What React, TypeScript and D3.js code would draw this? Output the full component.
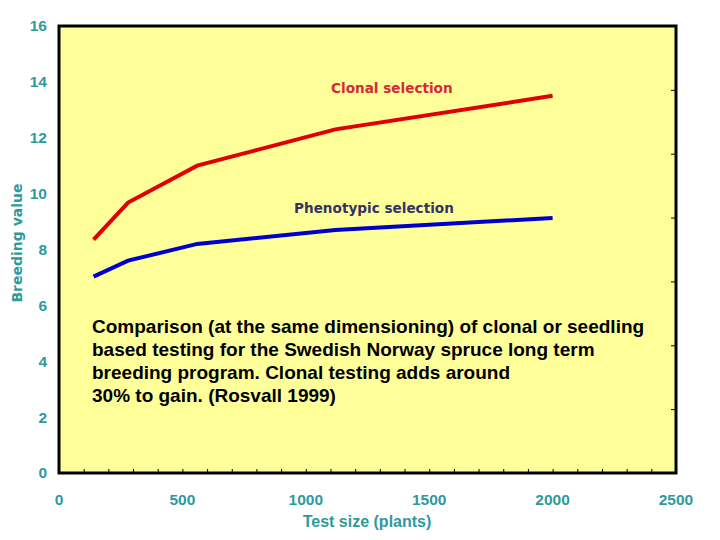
import React, { useEffect, useRef } from 'react';
import * as d3 from 'd3';

// test size (plants) and breeding value
const testSizes = [140, 280, 560, 1120, 2000];
const clonalValues = [8.35, 9.68, 11.0, 12.3, 13.5];
const phenotypicValues = [7.03, 7.6, 8.2, 8.7, 9.13];

const yTicks = [0, 2, 4, 6, 8, 10, 12, 14, 16];
const xTicks = [0, 500, 1000, 1500, 2000, 2500];

const noteLines = [
    'Comparison (at the same dimensioning) of clonal or seedling',
    'based testing for the Swedish Norway spruce long term',
    'breeding program. Clonal testing adds around',
    '30% to gain. (Rosvall 1999)',
];

const width = 720;
const height = 540;

const App: React.FC = () => {
    const svgRef = useRef<SVGSVGElement | null>(null);

    useEffect(() => {
        const margin = { top: 26, right: 44, bottom: 67, left: 59 };
        const teal = '#2E9A9A';
        const labelFont = '"Liberation Sans", Arial, sans-serif';
        const wideFont = '"DejaVu Sans", Verdana, sans-serif';

        const svg = d3.select(svgRef.current)
            .attr('width', width)
            .attr('height', height);
        svg.selectAll('*').remove();

        const x = d3.scaleLinear()
            .domain([0, 2500])
            .range([margin.left, width - margin.right]);
        const y = d3.scaleLinear()
            .domain([0, 16])
            .range([height - margin.bottom, margin.top]);
        // unlabelled secondary axis on the right, 7 intervals
        const y2 = d3.scaleLinear()
            .domain([0, 7])
            .range([height - margin.bottom, margin.top]);

        // plot background
        svg.append('rect')
            .attr('x', x(0))
            .attr('y', y(16))
            .attr('width', x(2500) - x(0))
            .attr('height', y(0) - y(16))
            .attr('fill', '#FFFF99');

        // minor ticks on the bottom, pointing inward
        svg.append('g')
            .attr('transform', `translate(0, ${y(0)})`)
            .call(d3.axisTop(x).ticks(25).tickSize(4).tickFormat(() => ''))
            .call(g => g.select('.domain').remove())
            .selectAll('line')
            .attr('stroke', '#000')
            .attr('stroke-width', 1);

        // right axis ticks
        svg.append('g')
            .attr('transform', `translate(${x(2500)}, 0)`)
            .call(d3.axisLeft(y2).tickValues(d3.range(1, 7)).tickSize(5).tickFormat(() => ''))
            .call(g => g.select('.domain').remove())
            .selectAll('line')
            .attr('stroke', '#000')
            .attr('stroke-width', 1);

        // frame
        svg.append('rect')
            .attr('x', x(0))
            .attr('y', y(16))
            .attr('width', x(2500) - x(0))
            .attr('height', y(0) - y(16))
            .attr('fill', 'none')
            .attr('stroke', '#000')
            .attr('stroke-width', 3);

        // y tick labels
        svg.append('g')
            .selectAll('text')
            .data(yTicks)
            .enter()
            .append('text')
            .attr('x', 47)
            .attr('y', d => y(d))
            .attr('dy', '0.35em')
            .attr('text-anchor', 'end')
            .attr('font-family', labelFont)
            .attr('font-weight', 'bold')
            .attr('font-size', 15.5)
            .attr('fill', teal)
            .text(d => d);

        // x tick labels
        svg.append('g')
            .selectAll('text')
            .data(xTicks)
            .enter()
            .append('text')
            .attr('x', d => x(d))
            .attr('y', 505)
            .attr('text-anchor', 'middle')
            .attr('font-family', labelFont)
            .attr('font-weight', 'bold')
            .attr('font-size', 15.5)
            .attr('fill', teal)
            .text(d => d);

        // axis titles
        svg.append('text')
            .attr('x', 367)
            .attr('y', 527)
            .attr('text-anchor', 'middle')
            .attr('font-family', labelFont)
            .attr('font-weight', 'bold')
            .attr('font-size', 16)
            .attr('fill', teal)
            .text('Test size (plants)');

        svg.append('text')
            .attr('transform', 'translate(22, 243) rotate(-90)')
            .attr('text-anchor', 'middle')
            .attr('font-family', wideFont)
            .attr('font-weight', 'bold')
            .attr('font-size', 14)
            .attr('fill', teal)
            .text('Breeding value');

        // series lines
        const line = d3.line<number>()
            .x((_, i) => x(testSizes[i]))
            .y(d => y(d));

        svg.append('path')
            .datum(clonalValues)
            .attr('d', line)
            .attr('fill', 'none')
            .attr('stroke', '#E00000')
            .attr('stroke-width', 4);

        svg.append('path')
            .datum(phenotypicValues)
            .attr('d', line)
            .attr('fill', 'none')
            .attr('stroke', '#0000CC')
            .attr('stroke-width', 4);

        // series labels
        svg.append('text')
            .attr('x', 331)
            .attr('y', 93)
            .attr('font-family', wideFont)
            .attr('font-weight', 'bold')
            .attr('font-size', 13.6)
            .attr('fill', '#D42A3C')
            .text('Clonal selection');

        svg.append('text')
            .attr('x', 294)
            .attr('y', 213)
            .attr('font-family', wideFont)
            .attr('font-weight', 'bold')
            .attr('font-size', 13.6)
            .attr('fill', '#333366')
            .text('Phenotypic selection');

        // note
        svg.append('g')
            .selectAll('text')
            .data(noteLines)
            .enter()
            .append('text')
            .attr('x', 92)
            .attr('y', (_, i) => 333 + i * 23)
            .attr('font-family', '"Liberation Sans Narrow", "Arial Narrow", sans-serif')
            .attr('font-weight', 'bold')
            .attr('font-size', 19)
            .attr('fill', '#000')
            .text(d => d);
    }, []);

    return (
        <div style={{ margin: -8 }}>
            <svg ref={svgRef}></svg>
        </div>
    );
};

export default App;
